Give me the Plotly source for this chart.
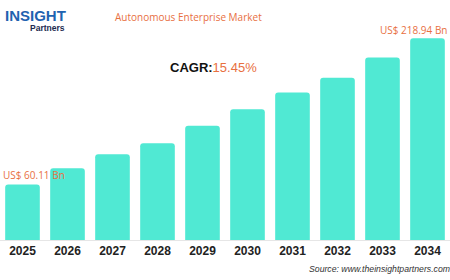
import plotly.graph_objects as go

years = [2025, 2026, 2027, 2028, 2029, 2030, 2031, 2032, 2033, 2034]
values = [60.11, 78, 93, 105, 124, 142, 160, 176, 198, 218.94]
first_label = "US$ 60.11 Bn"
last_label = "US$ 218.94 Bn"
title_text = "Autonomous Enterprise Market"
cagr_value = "15.45%"
source_text = "Source: www.theinsightpartners.com"

BAR = "#50E9D3"
ORANGE = "#E8703F"

fig = go.Figure(go.Bar(
    x=years, y=values, marker=dict(color=BAR, line=dict(width=0), cornerradius=3),
    hoverinfo="skip",
))

fig.update_layout(
    width=450, height=280,
    margin=dict(l=0, r=0, t=20, b=40),
    paper_bgcolor="white", plot_bgcolor="white",
    bargap=0.23,
    showlegend=False,
    xaxis=dict(
        type="linear", range=[years[0] - 0.5, years[-1] + 0.5],
        tickmode="array", tickvals=years, ticktext=[str(y) for y in years],
        showgrid=False, zeroline=False, showline=True, linecolor="#e6e6e6", linewidth=1,
        ticks="", tickfont=dict(family="Liberation Sans", size=12, color="#222", weight="bold"),
        fixedrange=True,
    ),
    yaxis=dict(range=[0, 238.8], visible=False, fixedrange=True),
)

ann = []
ann.append(dict(x=years[0], y=values[0], xref="x", yref="y", text=first_label, showarrow=False,
                xanchor="left", yanchor="middle", xshift=-22, yshift=10,
                font=dict(family="Open Sans", size=10, color=ORANGE)))
ann.append(dict(x=years[-1], y=values[-1], xref="x", yref="y", text=last_label, showarrow=False,
                xanchor="right", yanchor="middle", xshift=22, yshift=8,
                font=dict(family="Open Sans", size=10, color=ORANGE)))
ann.append(dict(x=0.418, y=1.0, xref="paper", yref="paper", yanchor="middle", xanchor="center",
                yshift=3, text=title_text, showarrow=False,
                font=dict(family="Open Sans", size=10, color=ORANGE)))
ann.append(dict(x=0.475, y=0.78, xref="paper", yref="paper", xanchor="center", yanchor="middle",
                yshift=1, text="<b>CAGR:</b><span style='color:%s'>%s</span>" % (ORANGE, cagr_value),
                showarrow=False, font=dict(family="Liberation Sans", size=13, color="#111")))
ann.append(dict(x=1.0, y=0, xref="paper", yref="paper", xanchor="right", yanchor="middle",
                xshift=2, yshift=-29, text="<i>%s</i>" % source_text, showarrow=False,
                font=dict(family="Liberation Sans", size=8.7, color="#333")))
# logo
ann.append(dict(x=0, y=1.0, xref="paper", yref="paper", xanchor="left", yanchor="middle",
                xshift=3, yshift=5, text="<b>INSIGHT</b>", showarrow=False,
                font=dict(family="Liberation Sans", size=15, color="#1f63b0")))
ann.append(dict(x=0, y=1.0, xref="paper", yref="paper", xanchor="left", yanchor="middle",
                xshift=28, yshift=-8, text="<b>Partners</b>", showarrow=False,
                font=dict(family="Liberation Sans", size=8.5, color="#1d2b4f")))
fig.update_layout(annotations=ann)

fig.write_html("out.html")
